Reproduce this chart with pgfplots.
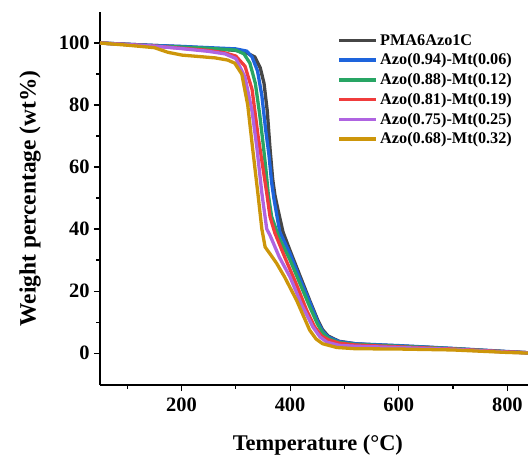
\documentclass[border=0pt]{standalone}
\usepackage{fontspec}
\setmainfont{Liberation Serif}
\usepackage{pgfplots}
\pgfplotsset{compat=1.18}
\definecolor{cblack}{RGB}{70,70,70}
\definecolor{cblue}{RGB}{30,100,220}
\definecolor{cgreen}{RGB}{40,165,100}
\definecolor{cred}{RGB}{240,60,60}
\definecolor{cpurple}{RGB}{175,100,225}
\definecolor{cgold}{RGB}{205,150,10}
\begin{document}
\begin{tikzpicture}
\begin{axis}[
  scale only axis,
  width=428bp, height=373bp,
  xmin=50, xmax=838, ymin=-10.3, ymax=110,
  axis x line*=bottom, axis y line*=left,
  axis line style={line width=1.3bp},
  tick style={line width=1.1bp, black},
  tick align=outside,
  major tick length=6bp, minor tick length=3.5bp,
  xtick={200,400,600,800}, minor xtick={100,300,500,700},
  ytick={0,20,40,60,80,100}, minor ytick={10,30,50,70,90},
  /pgf/number format/assume math mode=true,
  ticklabel style={font=\fontsize{20.5}{24}\selectfont\bfseries},
  xticklabel style={yshift=-3bp},
  yticklabel style={xshift=-1bp},
  xlabel={Temperature (°C)},
  ylabel={Weight percentage (wt\%)},
  xlabel style={font=\fontsize{22.5}{26}\selectfont\bfseries, at={(axis description cs:0.509,-0.161)}, anchor=center},
  ylabel style={font=\fontsize{23.5}{26}\selectfont\bfseries, at={(axis description cs:-0.1636,0.5)}, anchor=center},
  legend style={draw=none, fill=none, at={(axis description cs:0.548,0.951)}, anchor=north west,
    font=\fontsize{16.3}{19}\selectfont\bfseries, row sep=3bp,
    /tikz/every even column/.append style={column sep=0bp}},
  legend cell align=left,
  legend image code/.code={\draw[#1, line width=3.5bp] (0bp,0bp) -- (37bp,0bp);},
  every axis plot/.append style={line width=3.3bp, line join=round},
]
\addplot[cblack] coordinates {(50,100) (100,99.6) (150,99.2) (200,98.8) (250,98.3) (300,97.6) (320,96.8) (335,95.5) (345,92) (352,87) (358,78) (363,66) (368,56) (372,51) (378,46) (387,39) (400,33) (418,25) (436,17) (451,10.6) (460,7.5) (470,5.5) (490,3.8) (520,3.0) (550,2.7) (600,2.3) (650,1.9) (700,1.4) (750,0.9) (800,0.4) (838,0.1)};
\addlegendentry{PMA6Azo1C}
\addplot[cblue] coordinates {(50,100) (100,99.6) (150,99.2) (200,98.9) (250,98.5) (300,98.1) (320,97.4) (330,95.5) (340,91) (348,83) (355,72) (361,64) (366,55) (370,50) (381,39) (400,32) (418,24) (436,16.5) (451,10) (460,7) (470,5.2) (490,3.7) (520,3.0) (600,2.4) (700,1.5) (800,0.5) (838,0.1)};
\addlegendentry{Azo(0.94)-Mt(0.06)}
\addplot[cgreen] coordinates {(50,100) (100,99.5) (150,99.0) (200,98.7) (250,98.3) (300,97.7) (315,96.5) (326,93.5) (336,87) (344,77) (350,68) (355,60) (360,51) (366,44) (380,37) (400,30) (418,22.5) (436,15) (450,9.5) (460,6.5) (470,4.8) (490,3.4) (520,2.8) (600,2.2) (700,1.4) (800,0.4) (838,0.1)};
\addlegendentry{Azo(0.88)-Mt(0.12)}
\addplot[cred] coordinates {(50,100) (100,99.5) (150,99.0) (200,98.3) (250,97.6) (280,96.8) (300,95.8) (317,92.5) (330,85) (341,70) (348,62) (357,51.6) (363,44) (372,38.7) (390,31) (412,22) (430,14) (445,8.5) (458,5.5) (470,4.3) (490,3.2) (520,2.6) (600,2.0) (700,1.3) (800,0.4) (838,0.1)};
\addlegendentry{Azo(0.81)-Mt(0.19)}
\addplot[cpurple] coordinates {(50,100) (100,99.5) (150,99.0) (200,98.2) (250,97.3) (280,96.5) (300,95) (317,89) (330,78) (339,66) (348,51.6) (357,40) (363,38) (380,31) (400,24.5) (420,16) (442,8.4) (455,5.2) (468,3.5) (490,2.5) (520,2.2) (600,1.8) (700,1.2) (800,0.3) (838,0.1)};
\addlegendentry{Azo(0.75)-Mt(0.25)}
\addplot[cgold] coordinates {(50,100) (100,99.3) (150,98.5) (175,97) (201,96.1) (262,95.2) (285,94.5) (298,93.5) (311,90) (322,80) (331,66) (341,51) (348,40) (354,34.2) (363,32) (375,29) (390,24.5) (412,17) (436,7.4) (448,4.5) (460,3) (486,1.8) (520,1.4) (600,1.3) (700,1.0) (800,0.2) (838,0)};
\addlegendentry{Azo(0.68)-Mt(0.32)}
\end{axis}
\pgfresetboundingbox
\path[use as bounding box] ([shift={(-100bp,-73bp)}]current axis.south west) rectangle ([shift={(0bp,12bp)}]current axis.north east);
\end{tikzpicture}
\end{document}
